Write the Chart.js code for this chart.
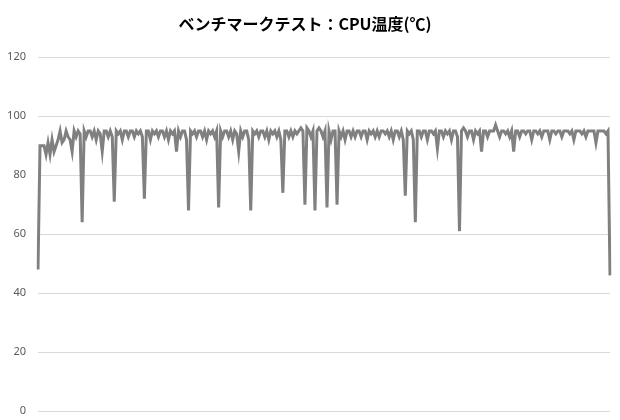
<!DOCTYPE html>
<html>
<head>
<meta charset="utf-8">
<script src="https://cdn.jsdelivr.net/npm/chart.js@4"></script>
<style>
  html, body { margin: 0; padding: 0; background: #fff; }
  #wrap { width: 620px; height: 420px; }
</style>
</head>
<body>
<div id="wrap"><canvas id="cpuChart" width="620" height="420"></canvas></div>
<script>
/* ── DATA ─────────────────────────────────────────────────── */
const chartTitle = 'ベンチマークテスト：CPU温度(℃)';

// CPU temperature samples (℃)
const cpuTemp = [
  48, 90, 90, 90, 87, 91, 87, 92, 88, 90,
  92, 95, 91, 92, 95, 93, 92, 88, 95, 93,
  95, 94, 64, 95, 93, 95, 95, 93, 95, 92,
  95, 94, 88, 95, 95, 93, 95, 93, 71, 95,
  94, 95, 92, 95, 95, 93, 95, 95, 93, 95,
  94, 95, 93, 72, 95, 95, 92, 95, 94, 95,
  93, 95, 95, 93, 95, 92, 95, 94, 95, 88,
  95, 93, 95, 95, 92, 68, 95, 94, 95, 93,
  95, 95, 93, 95, 92, 95, 94, 95, 93, 95,
  69, 95, 93, 95, 95, 93, 95, 92, 95, 94,
  88, 95, 93, 95, 95, 92, 68, 95, 94, 95,
  93, 95, 95, 93, 95, 92, 95, 94, 95, 93,
  95, 92, 74, 95, 95, 93, 95, 93, 95, 94,
  95, 96, 95, 70, 96, 95, 93, 95, 68, 95,
  96, 95, 93, 95, 69, 95, 92, 95, 95, 70,
  95, 93, 95, 92, 95, 95, 93, 95, 93, 95,
  95, 93, 95, 95, 92, 95, 94, 95, 93, 95,
  93, 95, 95, 94, 95, 93, 95, 92, 95, 95,
  93, 95, 92, 73, 95, 94, 95, 92, 64, 95,
  95, 93, 95, 95, 92, 95, 95, 94, 95, 89,
  95, 95, 93, 95, 94, 95, 92, 95, 95, 93,
  61, 95, 96, 95, 93, 95, 95, 92, 95, 94,
  95, 88, 95, 95, 93, 95, 95, 95, 97, 95,
  93, 95, 95, 94, 95, 93, 95, 88, 95, 95,
  93, 95, 95, 94, 95, 95, 92, 95, 95, 94,
  95, 93, 95, 95, 95, 92, 95, 95, 94, 95,
  95, 93, 95, 95, 95, 94, 95, 92, 95, 95,
  95, 94, 95, 93, 95, 95, 95, 95, 91, 95,
  95, 95, 95, 94, 95, 46
];

// sample numbers (x axis, labels hidden)
const samples = cpuTemp.map((_, i) => i + 1);

const yTicks = [0, 20, 40, 60, 80, 100, 120];

/* ── CHART ────────────────────────────────────────────────── */
new Chart(document.getElementById('cpuChart'), {
  type: 'line',
  data: {
    labels: samples,
    datasets: [{
      data: cpuTemp,
      borderColor: '#808080',
      borderWidth: 3,
      pointRadius: 0,
      tension: 0,
      fill: false,
    }]
  },
  options: {
    responsive: false,
    animation: false,
    layout: { padding: { left: 0, right: 10, top: 0, bottom: 9 } },
    plugins: {
      legend: { display: false },
      tooltip: { enabled: false },
      title: {
        display: true,
        text: chartTitle,
        color: '#000',
        font: { family: '"Noto Sans CJK JP", "Noto Sans", sans-serif', size: 16, weight: 'bold' },
        padding: { top: 14, bottom: 24 }
      }
    },
    scales: {
      x: {
        display: false,
        offset: false,
      },
      y: {
        min: yTicks[0],
        max: yTicks[yTicks.length - 1],
        afterFit: axis => {
          axis.width = 38;
          // don't let the tick labels push the plot edges in
          axis.paddingTop = 0;
          axis.paddingBottom = 0;
        },
        afterBuildTicks: axis => { axis.ticks = yTicks.map(v => ({ value: v })); },
        border: { display: false },
        grid: { color: '#d9d9d9', lineWidth: 1, drawTicks: false },
        ticks: {
          color: '#595959',
          padding: 12,
          font: { family: '"Noto Sans", sans-serif', size: 11 }
        }
      }
    }
  }
});
</script>
</body>
</html>
